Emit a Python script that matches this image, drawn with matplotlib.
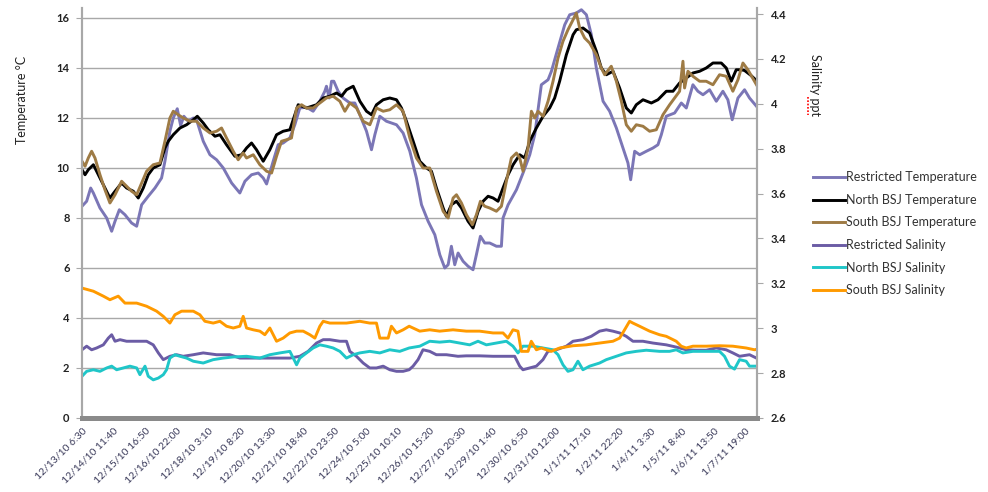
import matplotlib.pyplot as plt
from matplotlib.lines import Line2D

plt.rcParams['font.family'] = ['Lato', 'DejaVu Sans']

# x axis: hours since 12/13/10 6:30, labels every 29h10m
tick_labels = ['12/13/10 6:30', '12/14/10 11:40', '12/15/10 16:50', '12/16/10 22:00',
               '12/18/10 3:10', '12/19/10 8:20', '12/20/10 13:30', '12/21/10 18:40',
               '12/22/10 23:50', '12/24/10 5:00', '12/25/10 10:10', '12/26/10 15:20',
               '12/27/10 20:30', '12/29/10 1:40', '12/30/10 6:50', '12/31/10 12:00',
               '1/1/11 17:10', '1/2/11 22:20', '1/4/11 3:30', '1/5/11 8:40',
               '1/6/11 13:50', '1/7/11 19:00']
tick_hours = [k * 175 / 6 for k in range(len(tick_labels))]

# temperature (deg C)
rt_hours = [0, 4.3, 8.0, 10.5, 16.6, 22.8, 27.4, 30.5, 34.5, 39.7, 45.8, 50.5, 55.1, 61.2, 67.4,
            73.5, 76.6, 81.2, 84.3, 88.0, 91.1, 94.1, 98.1, 102.8, 105.8, 112.0, 118.2, 124.3,
            130.5, 138.2, 145.8, 150.5, 156.6, 162.8, 167.4, 170.5, 176.6, 181.2, 185.8, 192.0,
            196.6, 201.2, 207.4, 213.5, 219.7, 224.3, 225.8, 228.3, 230.5, 232.6, 236.6, 241.2,
            247.4, 252.0, 256.6, 262.8, 267.4, 270.5, 275.1, 281.2, 290.5, 296.6, 302.8, 308.9,
            313.6, 319.7, 325.9, 330.5, 335.1, 338.2, 341.2, 344.3, 347.4, 352.0, 356.6, 361.2,
            364.3, 368.0, 372.0, 376.6, 382.8, 387.4, 388.9, 393.6, 401.3, 407.4, 413.6, 418.2,
            424.3, 430.5, 433.6, 439.7, 445.9, 450.5, 456.6, 461.3, 465.9, 470.5, 475.1, 481.3,
            487.4, 493.6, 499.7, 504.3, 506.8, 510.5, 515.1, 521.3, 527.4, 532.0, 535.1, 539.7,
            547.4, 553.6, 558.2, 564.3, 568.9, 573.6, 579.7, 585.9, 592.0, 596.6, 600.6, 605.9,
            612.0, 616.6, 623.0]
rt_temp = [8.47, 8.67, 9.2, 9.0, 8.4, 8.0, 7.47, 7.87, 8.33, 8.13, 7.8, 7.67, 8.53, 8.87, 9.2,
           9.6, 10.27, 11.47, 12.0, 12.37, 11.7, 12.07, 11.87, 12.0, 11.93, 11.07, 10.53, 10.33,
           10.0, 9.4, 9.0, 9.47, 9.73, 9.8, 9.6, 9.36, 10.27, 10.93, 11.0, 11.2,
           11.73, 12.4, 12.43, 12.27, 12.67, 13.07, 13.27, 12.8, 13.47, 13.47, 13.07, 12.8,
           12.6, 12.6, 12.13, 11.47, 10.73, 11.33, 12.07, 11.87, 11.73, 11.4, 10.67, 9.6,
           8.53, 7.87, 7.33, 6.53, 6.0, 6.13, 6.87, 6.13, 6.6, 6.27, 6.07, 5.93,
           6.53, 7.27, 7.0, 7.0, 6.87, 6.87, 8.0, 8.53, 9.13, 9.8, 10.53, 11.33,
           13.33, 13.53, 13.87, 14.8, 15.73, 16.13, 16.2, 16.33, 16.13, 15.33, 14.0, 12.67,
           12.27, 11.6, 10.8, 10.2, 9.53, 10.67, 10.53, 10.67, 10.8, 10.93, 11.33, 12.07,
           12.2, 12.6, 12.4, 13.33, 13.07, 12.93, 13.13, 12.67, 13.07, 12.73, 11.93, 12.8,
           13.13, 12.8, 12.47]

nt_hours = [0, 2.8, 5.8, 10.5, 16.6, 21.2, 25.8, 30.5, 36.6, 41.2, 47.4, 52.0, 56.6, 61.2, 65.8,
            72.0, 76.6, 79.7, 84.3, 90.5, 96.6, 102.8, 106.5, 112.0, 116.6, 122.8, 127.4, 133.5,
            141.2, 147.4, 152.0, 156.6, 161.2, 167.4, 173.5, 179.7, 185.8, 192.0, 196.6, 199.7,
            207.4, 216.6, 222.8, 228.9, 235.1, 239.7, 244.3, 250.5, 256.7, 262.8, 267.4, 272.0,
            278.2, 284.3, 290.5, 295.1, 299.7, 305.9, 312.0, 318.2, 322.8, 327.4, 333.6, 336.6,
            341.2, 345.9, 350.5, 356.6, 361.2, 365.9, 370.5, 375.1, 379.7, 384.3, 388.9, 393.6,
            398.2, 404.3, 408.9, 413.6, 419.7, 425.9, 432.0, 436.6, 441.2, 447.4, 453.6, 456.6,
            462.8, 468.9, 475.1, 479.7, 484.3, 490.5, 496.6, 502.8, 507.4, 512.0, 518.2, 525.9,
            532.0, 539.7, 545.9, 552.0, 558.2, 564.3, 570.5, 576.6, 582.8, 590.5, 595.1, 599.7,
            604.3, 608.9, 612.0, 618.0, 623.0]
nt_temp = [9.93, 9.73, 9.93, 10.13, 9.6, 9.2, 8.8, 9.07, 9.4, 9.2, 9.07, 8.8, 9.2, 9.73, 10.0,
           10.13, 10.8, 11.07, 11.33, 11.6, 11.73, 11.93, 12.07, 11.8, 11.53, 11.27, 11.33, 10.93,
           10.47, 10.53, 10.8, 11.0, 10.73, 10.27, 10.73, 11.33, 11.47, 11.53, 12.13, 12.53,
           12.4, 12.53, 12.8, 12.87, 13.0, 12.87, 13.13, 13.27, 12.67, 12.27, 12.13, 12.53,
           12.73, 12.8, 12.73, 12.4, 11.87, 11.07, 10.27, 10.0, 9.87, 9.2, 8.4, 8.07,
           8.53, 8.67, 8.4, 7.87, 7.6, 8.27, 8.67, 8.87, 8.8, 8.67, 9.2, 9.73,
           10.13, 10.53, 10.4, 11.07, 11.6, 12.07, 12.4, 12.8, 13.47, 14.53, 15.33, 15.53,
           15.6, 15.4, 14.67, 14.0, 13.73, 13.87, 13.2, 12.4, 12.2, 12.53, 12.73, 12.6,
           12.73, 13.07, 13.07, 13.4, 13.6, 13.8, 13.87, 14.0, 14.2, 14.2, 14.0, 13.47,
           13.93, 13.93, 13.9, 13.7, 13.5]

st_hours = [0, 2.8, 5.8, 8.9, 12.0, 16.6, 21.2, 25.8, 30.5, 36.6, 41.2, 45.8, 50.5, 55.1, 59.7,
            65.8, 72.0, 76.6, 81.2, 84.3, 88.9, 93.5, 99.7, 105.8, 112.0, 118.2, 124.3, 128.9,
            133.5, 139.7, 144.3, 148.9, 152.0, 158.2, 164.3, 170.5, 175.1, 179.7, 184.3, 188.9,
            193.5, 198.2, 202.8, 207.4, 213.5, 219.7, 225.8, 232.0, 238.2, 242.8, 247.4, 253.6,
            259.7, 265.9, 272.0, 278.2, 284.3, 290.5, 296.6, 302.8, 308.9, 315.1, 321.2, 327.4,
            333.6, 338.2, 342.8, 345.9, 350.5, 355.1, 360.6, 364.3, 368.0, 372.0, 376.6, 382.8,
            387.4, 392.0, 396.6, 401.3, 404.3, 407.4, 412.0, 415.1, 418.2, 421.2, 425.9, 430.5,
            435.1, 439.7, 444.3, 448.9, 453.6, 456.6, 459.7, 464.3, 468.9, 475.1, 479.7, 482.8,
            488.9, 493.6, 498.2, 502.8, 507.4, 512.0, 518.2, 524.3, 530.5, 536.6, 542.8, 547.4,
            552.0, 555.1, 556.6, 559.7, 564.3, 570.5, 576.6, 582.8, 588.9, 595.1, 601.2, 605.9,
            610.5, 615.1, 623.0]
st_temp = [10.27, 10.07, 10.4, 10.67, 10.4, 9.73, 9.13, 8.6, 8.93, 9.47, 9.27, 9.07, 8.93, 9.4, 9.87,
           10.13, 10.2, 11.07, 12.0, 12.27, 12.13, 12.0, 11.87, 11.87, 11.6, 11.4, 11.47, 11.6,
           11.2, 10.67, 10.33, 10.6, 10.4, 10.53, 10.13, 9.87, 9.8, 10.47, 11.07, 11.13,
           11.2, 12.4, 12.53, 12.4, 12.4, 12.6, 12.8, 12.87, 12.67, 12.27, 12.6, 12.4,
           11.87, 11.73, 12.4, 12.27, 12.33, 12.53, 12.27, 11.2, 10.4, 10.0, 10.0, 9.07,
           8.27, 8.0, 8.8, 8.93, 8.6, 8.13, 7.73, 8.13, 8.67, 8.47, 8.4, 8.27,
           8.47, 9.47, 10.4, 10.6, 10.4, 9.87, 10.8, 12.27, 12.0, 12.27, 12.07, 12.67,
           13.47, 14.4, 15.07, 15.53, 15.93, 16.2, 15.6, 15.2, 15.0, 14.53, 14.0, 13.73,
           14.07, 13.47, 12.67, 11.73, 11.47, 11.73, 11.67, 11.47, 11.53, 12.13, 12.53, 12.8,
           13.07, 14.27, 13.2, 13.87, 13.67, 13.47, 13.47, 13.33, 13.73, 13.67, 13.07, 13.53,
           14.2, 13.93, 13.33]

# salinity (ppt)
rs_hours = [0, 4.3, 8.9, 13.5, 19.7, 24.3, 27.4, 30.5, 35.1, 41.2, 50.5, 59.7, 65.8, 70.5, 75.1,
            81.2, 87.4, 93.5, 102.8, 112.0, 124.3, 136.6, 145.8, 158.2, 170.5, 182.8, 192.0,
            201.2, 208.9, 216.6, 222.8, 228.9, 238.2, 244.3, 247.4, 253.5, 259.7, 265.8, 272.0,
            278.2, 284.3, 290.5, 296.6, 302.2, 305.8, 310.4, 315.0, 321.2, 327.3, 336.6, 347.3,
            355.0, 367.3, 379.7, 392.0, 399.7, 404.3, 407.3, 413.5, 419.7, 425.8, 430.4, 438.1,
            447.4, 453.5, 462.7, 470.4, 478.1, 484.3, 490.4, 496.6, 502.7, 508.9, 518.1, 527.4,
            539.7, 548.9, 558.1, 567.3, 576.6, 585.8, 595.0, 601.2, 607.4, 616.6, 623.0]
rs_sal = [2.904, 2.920, 2.904, 2.912, 2.926, 2.956, 2.971, 2.942, 2.949, 2.942, 2.942, 2.942, 2.926,
          2.890, 2.860, 2.875, 2.882, 2.875, 2.882, 2.890, 2.882, 2.882, 2.867, 2.867, 2.867, 2.867,
          2.867, 2.875, 2.897, 2.934, 2.949, 2.949, 2.942, 2.942, 2.897, 2.875, 2.845, 2.823, 2.823,
          2.831, 2.815, 2.808, 2.808, 2.815, 2.831, 2.860, 2.904, 2.897, 2.882, 2.882, 2.875,
          2.877, 2.877, 2.875, 2.875, 2.875, 2.831, 2.815, 2.823, 2.831, 2.860, 2.897, 2.904,
          2.920, 2.942, 2.949, 2.964, 2.987, 2.993, 2.987, 2.979, 2.964, 2.942, 2.942, 2.934,
          2.926, 2.916, 2.904, 2.902, 2.902, 2.912, 2.904, 2.890, 2.875, 2.882, 2.867]

ns_hours = [0, 4.3, 10.5, 16.6, 22.8, 27.4, 32.0, 38.2, 44.3, 50.5, 53.5, 58.2, 61.2, 65.8, 70.5,
            75.1, 78.1, 81.2, 85.8, 90.5, 96.6, 102.8, 112.0, 121.2, 130.5, 139.7, 152.0, 164.3,
            173.5, 182.8, 192.0, 196.6, 198.2, 201.2, 207.4, 213.5, 219.7, 225.8, 232.0, 238.2,
            244.3, 250.5, 256.6, 265.8, 275.1, 284.3, 293.5, 302.2, 312.0, 321.2, 330.4, 339.7,
            348.9, 358.1, 365.8, 373.5, 382.7, 392.0, 398.1, 402.7, 407.3, 416.6, 425.8, 435.0,
            439.7, 444.3, 448.9, 453.5, 458.1, 462.7, 468.9, 478.1, 484.3, 493.5, 502.7, 512.0,
            521.2, 533.5, 542.7, 548.9, 555.0, 564.3, 576.6, 588.9, 593.5, 598.1, 602.7, 607.4,
            613.5, 616.6, 623.0]
ns_sal = [2.786, 2.808, 2.815, 2.808, 2.823, 2.831, 2.815, 2.823, 2.831, 2.823, 2.793, 2.831, 2.786,
          2.770, 2.778, 2.793, 2.815, 2.867, 2.882, 2.875, 2.867, 2.853, 2.845, 2.860, 2.867, 2.872,
          2.875, 2.867, 2.882, 2.890, 2.897, 2.853, 2.837, 2.867, 2.890, 2.912, 2.926, 2.920, 2.912,
          2.897, 2.867, 2.882, 2.890, 2.897, 2.890, 2.904, 2.897, 2.912, 2.920, 2.942, 2.938,
          2.942, 2.934, 2.926, 2.942, 2.926, 2.934, 2.942, 2.920, 2.890, 2.920, 2.920, 2.912,
          2.904, 2.882, 2.837, 2.808, 2.815, 2.853, 2.815, 2.831, 2.845, 2.860, 2.875, 2.890,
          2.897, 2.902, 2.897, 2.897, 2.904, 2.890, 2.897, 2.897, 2.897, 2.875, 2.831, 2.818,
          2.860, 2.853, 2.831, 2.831]

ss_hours = [0, 10.5, 19.7, 25.8, 33.5, 39.7, 50.5, 59.7, 68.9, 75.1, 81.2, 85.8, 92.0, 102.8,
            108.9, 113.5, 121.2, 127.4, 133.5, 139.7, 145.8, 148.9, 152.0, 158.2, 164.3, 168.9,
            173.5, 179.7, 185.8, 192.0, 198.2, 204.3, 210.5, 215.1, 219.7, 222.8, 228.9, 235.1,
            244.3, 256.6, 265.8, 272.0, 275.1, 282.8, 285.8, 290.5, 296.6, 302.2, 312.0, 321.2,
            330.4, 342.7, 355.0, 367.3, 379.7, 388.9, 393.5, 398.1, 402.7, 405.8, 412.0, 415.0,
            419.7, 424.3, 428.9, 433.5, 441.2, 453.5, 465.8, 478.1, 490.4, 496.6, 501.2, 505.8,
            508.9, 515.0, 524.3, 533.5, 539.7, 548.9, 553.5, 558.1, 564.3, 576.6, 588.9, 601.2,
            613.5, 621.2, 623.0]
ss_sal = [3.179, 3.165, 3.143, 3.127, 3.143, 3.112, 3.112, 3.098, 3.076, 3.053, 3.023, 3.060,
          3.076, 3.076, 3.060, 3.031, 3.023, 3.031, 3.009, 3.001, 3.009, 3.053, 3.001, 2.993,
          2.987, 2.971, 3.001, 2.942, 2.956, 2.979, 2.987, 2.987, 2.971, 2.956, 3.009, 3.031,
          3.023, 3.023, 3.023, 3.031, 3.023, 3.023, 2.956, 2.956, 3.009, 2.979, 2.993, 3.009,
          2.987, 2.993, 2.987, 2.993, 2.987, 2.987, 2.979, 2.979, 2.956, 2.993, 2.987, 2.897,
          2.897, 2.942, 2.904, 2.912, 2.904, 2.897, 2.912, 2.922, 2.926, 2.934, 2.942, 2.956,
          2.993, 3.031, 3.023, 3.009, 2.987, 2.971, 2.964, 2.942, 2.920, 2.912, 2.920, 2.920,
          2.922, 2.920, 2.912, 2.904, 2.906]

W, H = 988, 492
fig = plt.figure(figsize=(W / 100, H / 100), dpi=100)
ax = fig.add_axes([82 / W, 1 - 418 / H, 675 / W, 410 / H])
ax2 = ax.twinx()

lw = 2.1
ax.plot(rt_hours, rt_temp, color='#7b76b6', lw=lw, label='Restricted Temperature')
ax.plot(nt_hours, nt_temp, color='#000000', lw=lw, label='North BSJ Temperature')
ax.plot(st_hours, st_temp, color='#9e7b45', lw=lw, label='South BSJ Temperature')
ax2.plot(rs_hours, rs_sal, color='#6b5ca5', lw=lw, label='Restricted Salinity')
ax2.plot(ns_hours, ns_sal, color='#1fc6c8', lw=lw, label='North BSJ Salinity')
ax2.plot(ss_hours, ss_sal, color='#ff9a00', lw=lw, label='South BSJ Salinity')

ax.set_xlim(0, 623.5)
ax.set_ylim(0, 16.4)
ax2.set_ylim(2.6, 4.427)
ax.set_yticks(range(0, 17, 2))
sal_ticks = [2.6, 2.8, 3.0, 3.2, 3.4, 3.6, 3.8, 4.0, 4.2, 4.4]
ax2.set_yticks(sal_ticks)
ax2.set_yticklabels([f'{v:g}' for v in sal_ticks])
ax.set_xticks(tick_hours)
ax.set_xticklabels(tick_labels, rotation=45, ha='right', va='top', rotation_mode='anchor',
                   fontsize=7.5, color='#3a3a5a')

ax.grid(axis='y', color='#a8a8a8', lw=1)
ax.set_axisbelow(True)
for a in (ax, ax2):
    a.spines['top'].set_visible(False)
    a.spines['left'].set_color('#a8a8a8')
    a.spines['right'].set_color('#a8a8a8')
    a.spines['left'].set_linewidth(1.5)
    a.spines['right'].set_linewidth(1.5)
    a.spines['bottom'].set_color('#8a8a8a')
    a.spines['bottom'].set_linewidth(3.5)
ax.tick_params(axis='y', length=4, color='#a8a8a8', pad=5, labelsize=8, labelcolor='#222222')
ax2.tick_params(axis='y', length=4, color='#a8a8a8', pad=6, labelsize=8, labelcolor='#222222')
ax.tick_params(axis='x', length=0, pad=6)
for t in ax.get_yticklabels() + ax2.get_yticklabels():
    t.set_fontweight('bold')

fig.text(22 / W, 1 - 100 / H, 'Temperature °C', rotation=90, ha='center', va='center',
         fontsize=9, color='#222222')
fig.text(815 / W, 1 - 85 / H, 'Salinity ppt', rotation=270, ha='center', va='center',
         fontsize=9, color='#222222')
fig.add_artist(Line2D([808 / W, 808 / W], [1 - 97 / H, 1 - 115 / H], color='red', lw=1.2,
                      ls=(0, (1, 1)), transform=fig.transFigure))

handles = ax.get_lines() + ax2.get_lines()
fig.legend(handles, [h.get_label() for h in handles], loc='upper left',
           bbox_to_anchor=(802 / W, 1 - 160 / H), frameon=False, fontsize=9,
           handlelength=2.5, handletextpad=0.15, labelspacing=0.85, labelcolor='#333333')

fig.savefig('out.png', dpi=100)
